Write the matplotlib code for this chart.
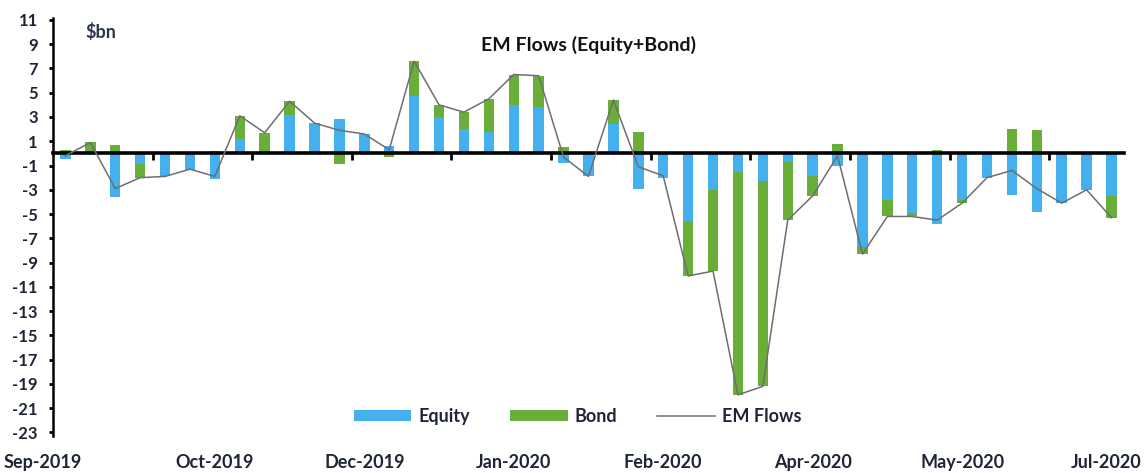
import numpy as np
import matplotlib.pyplot as plt

plt.rcParams['font.family'] = ['Lato', 'DejaVu Sans']
plt.rcParams['font.weight'] = 'bold'

# weekly EM flows, $bn
equity = [-0.5, 0.1, -3.6, -0.9, -1.9, -1.4, -2.1, 1.2, 0.0, 3.2,
          2.5, 2.8, 1.6, 0.6, 4.7, 3.0, 2.0, 1.8, 4.0, 3.8,
          -0.8, -1.9, 2.4, -2.9, -2.0, -5.6, -3.0, -1.5, -2.3, -0.7,
          -1.9, -1.0, -7.7, -3.8, -4.9, -5.8, -3.8, -2.0, -3.4, -4.8,
          -4.1, -3.0, -3.5]
bond = [0.3, 0.8, 0.7, -1.1, 0.0, 0.1, 0.2, 1.9, 1.7, 1.1,
        0.0, -0.9, 0.0, -0.3, 2.9, 1.0, 1.4, 2.7, 2.5, 2.6,
        0.5, 0.0, 2.0, 1.8, 0.15, -4.5, -6.7, -18.4, -16.9, -4.8,
        -1.6, 0.8, -0.6, -1.4, -0.3, 0.3, -0.3, 0.0, 2.0, 1.9,
        0.0, 0.0, -1.8]
date_labels = ['Sep-2019', 'Oct-2019', 'Dec-2019', 'Jan-2020',
               'Feb-2020', 'Apr-2020', 'May-2020', 'Jul-2020']
label_idx = [0, 6, 12, 18, 24, 30, 36, 42]
yticks = list(range(-23, 12, 2))

equity = np.array(equity)
bond = np.array(bond)
total = equity + bond
x = np.arange(len(equity))
bond_bottom = np.where(np.sign(bond) == np.sign(equity), equity, 0.0)

c_eq = '#45b0ee'
c_bd = '#6aae3a'
txt = '#1e2535'

fig = plt.figure(figsize=(11.44, 4.73), dpi=100)
ax = fig.add_axes([0.0463, 0.078, 0.9362, 0.885])

h_eq = ax.bar(x, equity, width=0.42, color=c_eq, label='Equity', zorder=2)
h_bd = ax.bar(x, bond, width=0.42, bottom=bond_bottom, color=c_bd, label='Bond', zorder=2)
h_ln, = ax.plot(x, total, color='#6e6e6e', lw=1.1, label='EM Flows', zorder=3)

ax.set_xlim(-0.5, 42.5)
ax.set_ylim(-23.3, 11.2)
ax.set_yticks(yticks)
ax.set_yticklabels([str(v) for v in yticks], fontsize=12, color=txt)
ax.tick_params(axis='y', direction='out', length=3, width=2, pad=8)

# category axis sits on zero
ax.spines['bottom'].set_position(('data', 0))
ax.spines['bottom'].set_linewidth(2.6)
ax.spines['top'].set_visible(False)
ax.spines['right'].set_visible(False)
ax.spines['left'].set_linewidth(1.8)
ax.set_xticks(np.arange(3.5, 42, 4))
ax.set_xticklabels([])
ax.tick_params(axis='x', direction='out', length=5, width=2)

for i, lab in zip(label_idx, date_labels):
    xpos, ha = i, 'center'
    if i == label_idx[0]:
        xpos, ha = -2.5, 'left'
    elif i == label_idx[-1]:
        xpos, ha = 43.2, 'right'
    ax.text(xpos, -25.5, lab, ha=ha, va='center', fontsize=13, color=txt, clip_on=False)

ax.text(0.8, 10.0, '$bn', fontsize=13, color='#2a3550', ha='left', va='center')
ax.text(21.0, 8.9, 'EM Flows (Equity+Bond)', fontsize=14, color='#111111',
        ha='center', va='center')

fig.legend([h_eq, h_bd, h_ln], ['Equity', 'Bond', 'EM Flows'],
           loc='center', bbox_to_anchor=(0.505, 0.12), ncol=3, frameon=False,
           fontsize=13, handlelength=3.2, handleheight=0.6, columnspacing=2.2,
           handletextpad=0.4, labelcolor=txt)

fig.savefig('out.png', dpi=100)
